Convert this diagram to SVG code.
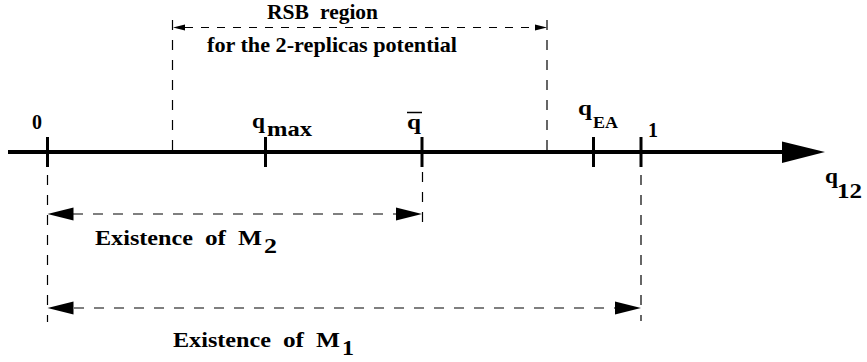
<svg xmlns="http://www.w3.org/2000/svg" width="867" height="362" viewBox="0 0 867 362">
<defs>
<style>
.dash{stroke:#000;stroke-width:1.2;stroke-dasharray:10 10;fill:none}
.dash-s{stroke:#000;stroke-width:1.2;stroke-dasharray:8 8;fill:none}
.tick{stroke:#000;stroke-width:3}
.head{fill:#000}
.t{font-family:'Liberation Serif','Times New Roman',serif;font-weight:bold;font-size:21px;fill:#000}
</style>
</defs>
<rect width="867" height="362" fill="#fff"/>
<g id="axis">
<line x1="8" y1="152" x2="784" y2="152" stroke="#000" stroke-width="4"/>
<polygon class="head" points="782,141.5 825,152 782,163"/>
<line class="tick" x1="47.5" y1="137" x2="47.5" y2="167"/>
<line class="tick" x1="265.5" y1="137" x2="265.5" y2="167"/>
<line class="tick" x1="422" y1="137" x2="422" y2="167"/>
<line class="tick" x1="593.5" y1="137" x2="593.5" y2="167"/>
<line class="tick" x1="641" y1="137" x2="641" y2="167"/>
</g>
<g id="connectors">
<line class="dash" x1="172.5" y1="20" x2="172.5" y2="152"/>
<line class="dash" x1="547" y1="20" x2="547" y2="152"/>
<line class="dash-s" x1="185" y1="27.5" x2="535" y2="27.5"/>
<polygon class="head" points="173,27.5 185,24.5 185,30.5"/>
<polygon class="head" points="547,27.5 535,24.5 535,30.5"/>
<line class="dash" x1="47.5" y1="175" x2="47.5" y2="322"/>
<line class="dash" x1="422.5" y1="172" x2="422.5" y2="225"/>
<line class="dash" x1="641" y1="175" x2="641" y2="321"/>
<line class="dash" x1="73" y1="214" x2="396" y2="214"/>
<polygon class="head" points="47.5,214 73.5,207.5 73.5,220.5"/>
<polygon class="head" points="422,214 396,207.5 396,220.5"/>
<line class="dash" x1="74" y1="308" x2="615" y2="308"/>
<polygon class="head" points="47.5,308 73.5,301.5 73.5,314.5"/>
<polygon class="head" points="641,308 615,301.5 615,314.5"/>
</g>
<g id="tick-labels">
<text class="t" x="32" y="129" textLength="10" lengthAdjust="spacingAndGlyphs">0</text>
<text class="t" x="252" y="128" textLength="13" lengthAdjust="spacingAndGlyphs">q</text>
<text class="t" x="267" y="136" textLength="45" lengthAdjust="spacingAndGlyphs">max</text>
<text class="t" x="407" y="129" textLength="14" lengthAdjust="spacingAndGlyphs">q</text>
<line x1="407" y1="112.5" x2="422" y2="112.5" stroke="#000" stroke-width="1.5"/>
<text class="t" x="578" y="115" textLength="14" lengthAdjust="spacingAndGlyphs">q</text>
<text class="t" x="593" y="128" style="font-size:16px" textLength="25" lengthAdjust="spacingAndGlyphs">EA</text>
<text class="t" x="648" y="137" textLength="10" lengthAdjust="spacingAndGlyphs">1</text>
<text class="t" x="825" y="183" textLength="13" lengthAdjust="spacingAndGlyphs">q</text>
<text class="t" x="837" y="198" textLength="25" lengthAdjust="spacingAndGlyphs">12</text>
</g>
<g id="rsb-label">
<text class="t" x="267" y="19" textLength="42" lengthAdjust="spacingAndGlyphs">RSB</text>
<text class="t" x="320" y="19" textLength="58" lengthAdjust="spacingAndGlyphs">region</text>
<text class="t" x="207" y="52" textLength="250" lengthAdjust="spacingAndGlyphs">for the 2-replicas potential</text>
</g>
<g id="m2-label">
<text class="t" x="95" y="245" textLength="98" lengthAdjust="spacingAndGlyphs">Existence</text>
<text class="t" x="205" y="245" textLength="21" lengthAdjust="spacingAndGlyphs">of</text>
<text class="t" x="238" y="245" textLength="24" lengthAdjust="spacingAndGlyphs">M</text>
<text class="t" x="264" y="253" textLength="13" lengthAdjust="spacingAndGlyphs">2</text>
</g>
<g id="m1-label">
<text class="t" x="173" y="347" textLength="98" lengthAdjust="spacingAndGlyphs">Existence</text>
<text class="t" x="283" y="347" textLength="21" lengthAdjust="spacingAndGlyphs">of</text>
<text class="t" x="316" y="347" textLength="24" lengthAdjust="spacingAndGlyphs">M</text>
<text class="t" x="342" y="355" textLength="12" lengthAdjust="spacingAndGlyphs">1</text>
</g>
</svg>
